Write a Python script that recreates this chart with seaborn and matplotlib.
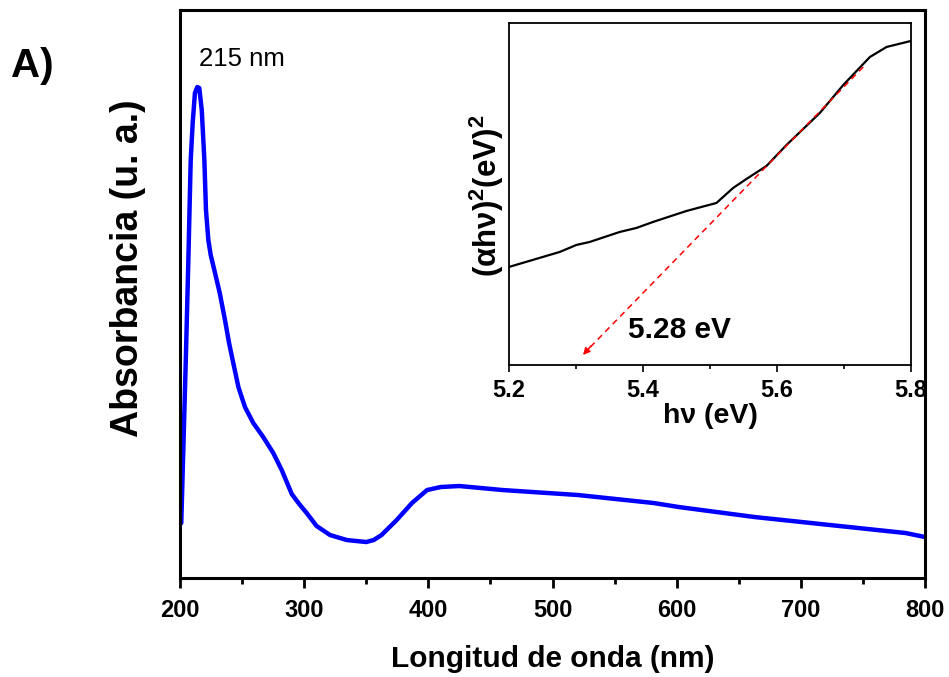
import numpy as np
import pandas as pd
import matplotlib
matplotlib.use("Agg")
import matplotlib.pyplot as plt
from matplotlib.ticker import MultipleLocator
import seaborn as sns

# ---- main spectrum (wavelength nm, absorbance a.u.) ----
wavelength = [201, 202.5, 204.8, 206.7, 208.6, 210.2, 212, 213.9, 215.5, 217.5,
              219.6, 220.9, 222.8, 224.7, 228.2, 232, 236.2, 239.5, 242.9, 247,
              252.3, 259, 267, 275.1, 281.9, 290, 296, 302, 310, 320.8,
              334.3, 342, 350, 356, 362.3, 374.5, 386.8, 399, 410, 425,
              459.6, 520.5, 581.5, 601.7, 662.7, 723.5, 784.4, 800]
absorbance = [55, 122, 225, 318, 418, 455, 485, 491, 490, 468,
              418, 368, 338, 323, 305, 285, 258, 235, 215, 191,
              171, 155, 141, 125, 108, 84, 74, 65, 52, 43,
              38, 37, 36, 38, 43, 58, 75, 88, 91, 92,
              88, 83, 75, 71, 61, 53, 45, 41]

# ---- inset Tauc plot ----
energy = [5.2, 5.2757, 5.3006, 5.3205, 5.3653, 5.3902, 5.415, 5.465, 5.5097,
          5.5346, 5.5545, 5.5844, 5.6143, 5.664, 5.699, 5.7388, 5.7637, 5.8]
tauc = [98, 113, 120, 123, 133, 137, 143, 154, 162,
        177, 186, 199, 220, 252, 280, 308, 318, 324]

main_xticks = [200, 300, 400, 500, 600, 700, 800]
inset_xticks = [5.2, 5.4, 5.6, 5.8]
inset_xticklabels = ["5.2", "5.4", "5.6", "5.8"]
fit_start = (5.7288, 298)
fit_end = (5.3105, 10)

sns.set_style("ticks")
plt.rcParams['font.family'] = ['Liberation Sans', 'DejaVu Sans']
plt.rcParams['font.weight'] = 'bold'
for k in ['text.color', 'axes.labelcolor', 'xtick.color', 'ytick.color', 'axes.edgecolor']:
    plt.rcParams[k] = 'black'
plt.rcParams['mathtext.fontset'] = 'custom'
plt.rcParams['mathtext.rm'] = 'Liberation Sans:bold'
plt.rcParams['mathtext.it'] = 'Liberation Sans:bold'
plt.rcParams['mathtext.bf'] = 'Liberation Sans:bold'
plt.rcParams['mathtext.sf'] = 'Liberation Sans:bold'

fig = plt.figure(figsize=(9.49, 6.77), dpi=100)
ax = fig.add_axes([0.1897, 0.1462, 0.7850, 0.8390])

df = pd.DataFrame({"wl": wavelength, "ab": absorbance})
sns.lineplot(data=df, x="wl", y="ab", ax=ax, color="#0000ff", lw=3.2, sort=False)
ax.set_xlim(200, 800)
ax.set_ylim(0, 568)
ax.set_yticks([])
ax.set_xticks(main_xticks)
ax.xaxis.set_minor_locator(MultipleLocator(50))
ax.tick_params(axis='x', which='major', direction='out', length=7, width=2,
               labelsize=17, pad=8)
ax.tick_params(axis='x', which='minor', direction='out', length=4, width=2)
for lab in ax.get_xticklabels():
    lab.set_fontweight('bold')
for s in ax.spines.values():
    s.set_linewidth(2.2)
    s.set_visible(True)
ax.set_xlabel("Longitud de onda (nm)", fontsize=21.5, fontweight='bold', labelpad=17)
ax.set_ylabel("Absorbancia (u. a.)", fontsize=27, fontweight='bold')
ax.yaxis.set_label_coords(-0.046, 0.546)
ax.text(249.7, 519, "215 nm", fontsize=18.5, fontweight='normal', ha='center', va='center')
fig.text(0.034, 0.903, "A)", fontsize=29, fontweight='bold', ha='center', va='center')

# ---- inset ----
axi = fig.add_axes([0.5363, 0.4609, 0.4236, 0.5052])
di = pd.DataFrame({"e": energy, "t": tauc})
sns.lineplot(data=di, x="e", y="t", ax=axi, color="black", lw=1.6, sort=False)
axi.set_xlim(5.2, 5.8)
axi.set_ylim(0, 342)
axi.set_yticks([])
axi.set_xticks(inset_xticks)
axi.set_xticklabels(inset_xticklabels)
axi.xaxis.set_minor_locator(MultipleLocator(0.1))
axi.tick_params(axis='x', which='major', direction='out', length=5, width=1.2,
                labelsize=17, pad=5, top=False)
axi.tick_params(axis='x', which='minor', direction='out', length=3, width=1.2)
for lab in axi.get_xticklabels():
    lab.set_fontweight('bold')
for s in axi.spines.values():
    s.set_linewidth(1.3)
    s.set_visible(True)
axi.set_xlabel("hν (eV)", fontsize=20.5, fontweight='bold', labelpad=1)
axi.set_ylabel(r"$(\alpha h\nu)^{2}(eV)^{2}$", fontsize=22.5, fontweight='bold')
axi.yaxis.set_label_coords(-0.008, 0.494)

axi.plot([fit_start[0], fit_end[0] + 0.006], [fit_start[1], fit_end[1] + 4.5],
         color='red', lw=1.1, ls=(0, (4, 3)))
axi.annotate("", xy=fit_end, xytext=(fit_end[0] + 0.012, fit_end[1] + 9),
             arrowprops=dict(arrowstyle='-|>', color='red', lw=1.1,
                             mutation_scale=10, shrinkA=0, shrinkB=0))
axi.text(5.455, 35, "5.28 eV", fontsize=21.5, fontweight='bold', ha='center', va='center')

fig.savefig("out.png", dpi=100)
